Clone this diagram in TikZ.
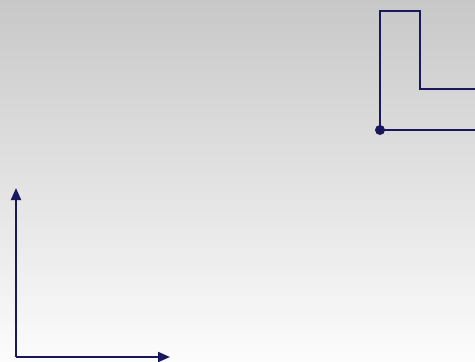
\documentclass[tikz,border=0pt]{standalone}
\usepackage{tikz}
\usetikzlibrary{arrows.meta}

\definecolor{navy}{RGB}{26,24,92}
\definecolor{bgtop}{RGB}{200,200,200}
\definecolor{bgbot}{RGB}{252,252,252}

\begin{document}
\begin{tikzpicture}[x=1pt,y=-1pt,line width=2pt,navy]
		\shade[top color=bgtop,bottom color=bgbot] (0,0) rectangle (475,362);
		\useasboundingbox (0,0) rectangle (475,362);
		
		\draw (380,130) -- (380,11) -- (420,11) -- (420,89) -- (476,89);
		\draw (380,130) -- (476,130);
		\fill (380,130) circle (5pt);
		
		\coordinate (o) at (16,357);
		\draw[-{Triangle[length=12pt,width=10pt]}] (o) -- (16,188);
		\draw[-{Triangle[length=12pt,width=10pt]}] (o) -- (170,357);
\end{tikzpicture}
\end{document}
